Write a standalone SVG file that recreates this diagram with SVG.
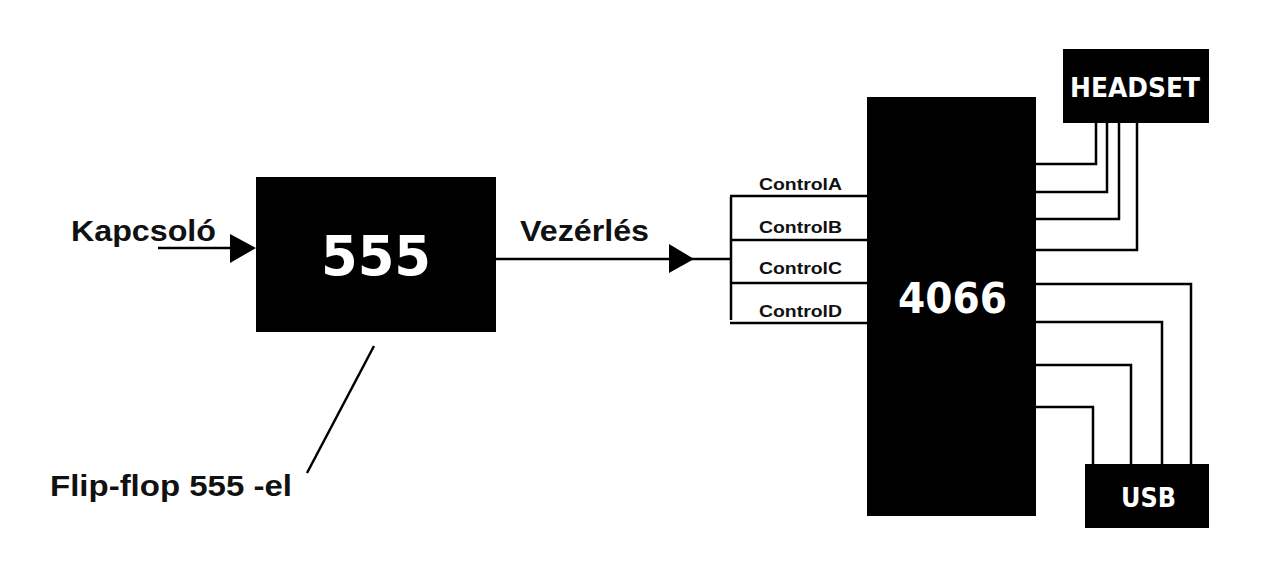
<svg xmlns="http://www.w3.org/2000/svg" width="1280" height="576" viewBox="0 0 1280 576">
<style>
.box{fill:#000}
.w{fill:none;stroke:#000;stroke-width:2.5}
.lbl{font-family:"Liberation Sans",Arial,sans-serif;font-weight:bold;fill:#111}
.chip{font-family:"DejaVu Sans",sans-serif;font-weight:bold;fill:#fff}
</style>
<rect width="1280" height="576" fill="#fff"/>
<g id="connectors">
  <line class="w" x1="158" y1="248" x2="232" y2="248"/>
  <polygon points="230,234 256,248 230,263" fill="#000"/>
  <line class="w" x1="496" y1="259" x2="731" y2="259"/>
  <polygon points="669,244 694,259 669,273" fill="#000"/>
  <line class="w" x1="731" y1="197" x2="731" y2="320"/>
  <line class="w" x1="730" y1="196" x2="868" y2="196"/>
  <line class="w" x1="730" y1="240" x2="868" y2="240"/>
  <line class="w" x1="730" y1="283" x2="868" y2="283"/>
  <line class="w" x1="730" y1="323" x2="868" y2="323"/>
  <line class="w" x1="374" y1="346" x2="307" y2="473"/>
  <polyline class="w" points="1036,164 1096,164 1096,123"/>
  <polyline class="w" points="1036,192 1107,192 1107,123"/>
  <polyline class="w" points="1036,219 1119,219 1119,123"/>
  <polyline class="w" points="1036,250 1137,250 1137,123"/>
  <polyline class="w" points="1036,284 1191,284 1191,464"/>
  <polyline class="w" points="1036,322 1162,322 1162,464"/>
  <polyline class="w" points="1036,365 1131,365 1131,464"/>
  <polyline class="w" points="1036,407 1093,407 1093,464"/>
</g>
<g id="label-kapcsolo"><text class="lbl" x="71" y="241" font-size="30" textLength="145" lengthAdjust="spacingAndGlyphs">Kapcsoló</text></g>
<g id="label-vezerles"><text class="lbl" x="520" y="241" font-size="30" textLength="129" lengthAdjust="spacingAndGlyphs">Vezérlés</text></g>
<g id="label-flipflop"><text class="lbl" x="50" y="496" font-size="30" textLength="242" lengthAdjust="spacingAndGlyphs">Flip-flop 555 -el</text></g>
<g id="label-controls">
  <text class="lbl" x="759" y="190" font-size="17" textLength="83" lengthAdjust="spacingAndGlyphs">ControlA</text>
  <text class="lbl" x="759" y="233" font-size="17" textLength="83" lengthAdjust="spacingAndGlyphs">ControlB</text>
  <text class="lbl" x="759" y="274" font-size="17" textLength="83" lengthAdjust="spacingAndGlyphs">ControlC</text>
  <text class="lbl" x="759" y="317" font-size="17" textLength="83" lengthAdjust="spacingAndGlyphs">ControlD</text>
</g>
<g id="node-555">
  <rect class="box" x="256" y="177" width="240" height="155"/>
  <text class="chip" x="321" y="275" font-size="56" textLength="110" lengthAdjust="spacingAndGlyphs">555</text>
</g>
<g id="node-4066">
  <rect class="box" x="867" y="97" width="169" height="419"/>
  <text class="chip" x="898" y="313" font-size="42" textLength="109" lengthAdjust="spacingAndGlyphs">4066</text>
</g>
<g id="node-headset">
  <rect class="box" x="1063" y="49" width="146" height="74"/>
  <text class="chip" x="1070" y="97" font-size="27" textLength="130" lengthAdjust="spacingAndGlyphs">HEADSET</text>
</g>
<g id="node-usb">
  <rect class="box" x="1085" y="464" width="124" height="64"/>
  <text class="chip" x="1121" y="507" font-size="27" font-weight="normal" textLength="55" lengthAdjust="spacingAndGlyphs">USB</text>
</g>
</svg>
